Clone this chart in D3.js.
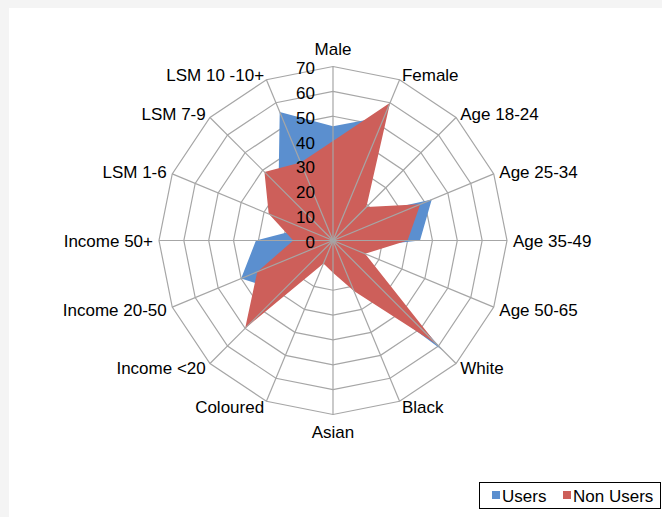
<!DOCTYPE html>
<html>
<head>
<meta charset="utf-8">
<script src="https://cdn.jsdelivr.net/npm/d3@7"></script>
<style>
  body { margin: 0; background: #f4f4f4; }
  svg { display: block; }
  text { font-family: "Liberation Sans", Arial, sans-serif; font-size: 17px; fill: #000; }
</style>
</head>
<body>
<script>
    var categories = ["Male", "Female", "Age 18-24", "Age 25-34", "Age 35-49", "Age 50-65",
        "White", "Black", "Asian", "Coloured", "Income <20", "Income 20-50", "Income 50+",
        "LSM 1-6", "LSM 7-9", "LSM 10 -10+"];
    var users    = [46, 54, 14, 43, 35, 8, 63, 18, 10, 9, 29, 40, 31, 13, 31, 56];
    var nonUsers = [40, 60, 19, 38, 30, 14, 59, 22, 13, 10, 50, 33, 16, 28, 39, 34];
    var ticks = [0, 10, 20, 30, 40, 50, 60, 70];
    var seriesNames = ["Users", "Non Users"];
    var colors = ["#5b8fcf", "#cd5f5a"];

    var width = 662, height = 517;
    var cx = 333, cy = 240.5, radius = 174;

    var svg = d3.select("body")
        .append("svg").attr("width", width).attr("height", height)

    // white chart area
    svg.append("rect")
        .attr("x", 9).attr("y", 8)
        .attr("width", width - 9).attr("height", height - 8)
        .style("fill", "#fff")

    var g = svg.append("g").attr("transform", "translate(" + cx + "," + cy + ")")

    var r = d3.scaleLinear().domain([0, 70]).range([0, radius]);
    var angle = d3.scaleLinear().domain([0, categories.length]).range([0, 2 * Math.PI]);

    function px(i, v) { return r(v) * Math.sin(angle(i)); }
    function py(i, v) { return -r(v) * Math.cos(angle(i)); }

    /* rings */
    var ring = d3.lineRadial()
        .angle(function(d, i) { return angle(i); })
        .radius(function(d) { return r(d); })
        .curve(d3.curveLinearClosed);

    g.selectAll(".ring")
        .data(ticks.slice(1))
        .enter().append("path")
        .attr("class", "ring")
        .attr("d", function(t) { return ring(categories.map(function() { return t; })); })
        .style("fill", "none")
        .style("stroke", "#a6a6a6")
        .style("stroke-width", 1.2)

    /* series areas */
    var area = d3.lineRadial()
        .angle(function(d, i) { return angle(i); })
        .radius(function(d) { return r(d); })
        .curve(d3.curveLinearClosed);

    g.selectAll(".series")
        .data([users, nonUsers])
        .enter().append("path")
        .attr("class", "series")
        .attr("d", area)
        .style("fill", function(d, i) { return colors[i]; })
        .style("stroke", "none")

    /* spokes on top */
    g.selectAll(".spoke")
        .data(categories)
        .enter().append("line")
        .attr("class", "spoke")
        .attr("x1", 0).attr("y1", 0)
        .attr("x2", function(d, i) { return px(i, 70); })
        .attr("y2", function(d, i) { return py(i, 70); })
        .style("stroke", "#a6a6a6")
        .style("stroke-width", 1.2)

    /* tick labels */
    g.selectAll(".tick")
        .data(ticks)
        .enter().append("text")
        .attr("class", "tick")
        .attr("x", -18)
        .attr("y", function(d) { return -r(d) + 3; })
        .attr("text-anchor", "end")
        .attr("dominant-baseline", "middle")
        .text(function(d) { return d; })

    /* category labels */
    g.selectAll(".cat")
        .data(categories)
        .enter().append("text")
        .attr("class", "cat")
        .attr("x", function(d, i) { return px(i, 70) + 6 * Math.sin(angle(i)); })
        .attr("y", function(d, i) {
            var c = Math.cos(angle(i));
            var y = py(i, 70) - 6 * c + 2;
            if (Math.abs(Math.sin(angle(i))) < 0.1) y += c > 0 ? -12 : 11;
            return y;
        })
        .attr("text-anchor", function(d, i) {
            var s = Math.sin(angle(i));
            return s > 0.1 ? "start" : (s < -0.1 ? "end" : "middle");
        })
        .attr("dominant-baseline", "middle")
        .text(function(d) { return d; })

    /* legend */
    var legend = svg.append("g").attr("class", "legend")
    legend.append("rect")
        .attr("x", 479.5).attr("y", 482.5)
        .attr("width", 181).attr("height", 26)
        .style("fill", "#fff")
        .style("stroke", "#000")
        .style("stroke-width", 1)

    var legendX = [492, 563];
    seriesNames.forEach(function(name, i) {
        legend.append("rect")
            .attr("x", legendX[i]).attr("y", 491)
            .attr("width", 8).attr("height", 8)
            .style("fill", colors[i])
        legend.append("text")
            .attr("x", legendX[i] + 10).attr("y", 498)
            .attr("dominant-baseline", "middle")
            .text(name)
    });
</script>
</body>
</html>
